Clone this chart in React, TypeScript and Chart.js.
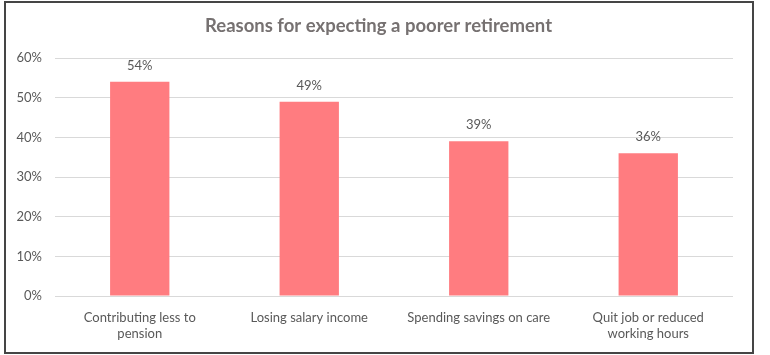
import React, { useEffect, useRef } from "react";
import { Chart, registerables } from "chart.js";

Chart.register(...registerables);

const categories: string[][] = [
  ["Contributing less to", "pension"],
  ["Losing salary income"],
  ["Spending savings on care"],
  ["Quit job or reduced", "working hours"],
];
const values: number[] = [54, 49, 39, 36];
const yTicks: number[] = [0, 10, 20, 30, 40, 50, 60];
const titleText = "Reasons for expecting a poorer retirement";

const FONT = "Lato, 'Open Sans', sans-serif";

const labelPlugin = {
  id: "barLabels",
  afterDatasetsDraw(chart: any) {
    const ctx = chart.ctx;
    const meta = chart.getDatasetMeta(0);
    ctx.save();
    ctx.font = `13px ${FONT}`;
    ctx.fillStyle = "#595959";
    ctx.textAlign = "center";
    ctx.textBaseline = "middle";
    meta.data.forEach((bar: any, i: number) => {
      ctx.fillText(`${values[i]}%`, bar.x, bar.y - 16);
    });
    ctx.restore();
  },
};

const titlePlugin = {
  id: "centeredTitle",
  afterDraw(chart: any) {
    const ctx = chart.ctx;
    ctx.save();
    ctx.font = `bold 18.5px ${FONT}`;
    ctx.fillStyle = "#767171";
    ctx.textAlign = "center";
    ctx.textBaseline = "middle";
    ctx.fillText(titleText, chart.width / 2, 23);
    ctx.restore();
  },
};

export default function App() {
  const ref = useRef<HTMLCanvasElement>(null);
  useEffect(() => {
    if (!ref.current) return;
    const chart = new Chart(ref.current, {
      type: "bar",
      data: {
        labels: categories,
        datasets: [
          {
            data: values,
            backgroundColor: "#FF7C80",
            barPercentage: 0.7,
            categoryPercentage: 0.5,
          },
        ],
      },
      plugins: [labelPlugin, titlePlugin],
      options: {
        animation: false,
        responsive: false,
        maintainAspectRatio: false,
        layout: { padding: { left: 0, right: 18, top: 55, bottom: 0 } },
        plugins: {
          legend: { display: false },
          tooltip: { enabled: false },
          title: { display: false },
        },
        scales: {
          x: {
            grid: { display: false },
            border: { display: false },
            ticks: {
              color: "#595959",
              font: { family: FONT, size: 13 },
              maxRotation: 0,
              minRotation: 0,
              autoSkip: false,
              padding: 6,
            },
            afterFit: (s: any) => {
              s.height = 56;
            },
          },
          y: {
            min: 0,
            max: 60,
            afterBuildTicks: (s: any) => {
              s.ticks = yTicks.map((v) => ({ value: v }));
            },
            grid: { color: "#D9D9D9", lineWidth: 1, drawTicks: false },
            border: { display: false },
            ticks: {
              color: "#595959",
              font: { family: FONT, size: 13 },
              padding: 13,
              callback: (v: any) => `${v}%`,
            },
            afterFit: (s: any) => {
              s.width = 49;
            },
          },
        },
      },
    });
    return () => chart.destroy();
  }, []);

  return (
    <div style={{ position: "absolute", left: 0, top: 0, width: 770, height: 355, background: "#fff" }}>
      <div
        style={{
          position: "absolute",
          left: 4,
          top: 1,
          width: 750,
          height: 353,
          boxSizing: "border-box",
          border: "2px solid #454545",
        }}
      />
      <canvas
        ref={ref}
        width={745}
        height={349}
        style={{ position: "absolute", left: 6, top: 3, width: 745, height: 349 }}
      />
    </div>
  );
}
